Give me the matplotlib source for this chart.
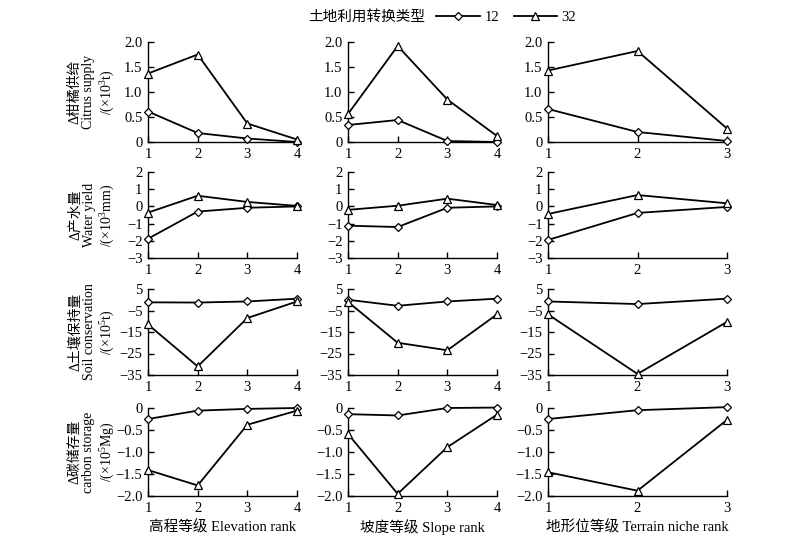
import matplotlib
matplotlib.use("Agg")
import matplotlib.pyplot as plt
from matplotlib.lines import Line2D

plt.rcParams['font.family'] = ['Liberation Serif', 'Noto Sans CJK SC']
plt.rcParams['mathtext.fontset'] = 'custom'
plt.rcParams['mathtext.rm'] = 'Liberation Serif'
plt.rcParams['axes.unicode_minus'] = True

# ---------- data
ranks_elev = [1, 2, 3, 4]
ranks_slope = [1, 2, 3, 4]
ranks_terrain = [1, 2, 3]

citrus_12 = [[0.61, 0.18, 0.07, 0.0], [0.34, 0.44, 0.02, 0.0], [0.66, 0.2, 0.02]]
citrus_32 = [[1.37, 1.75, 0.37, 0.05], [0.56, 1.92, 0.85, 0.12], [1.43, 1.82, 0.27]]

water_12 = [[-1.88, -0.3, -0.08, 0.0], [-1.12, -1.2, -0.08, 0.0], [-1.95, -0.38, -0.03]]
water_32 = [[-0.36, 0.62, 0.26, 0.03], [-0.2, 0.04, 0.45, 0.08], [-0.44, 0.66, 0.18]]

soil_12 = [[-1.2, -1.3, -0.8, 0.5], [0.0, -2.8, -0.8, 0.5], [-0.8, -2.0, 0.5]]
soil_32 = [[-11.5, -31.0, -8.5, -0.8], [-1.0, -20.0, -23.5, -6.8], [-6.8, -34.5, -10.3]]

carbon_12 = [[-0.25, -0.06, -0.02, 0.0], [-0.14, -0.17, 0.0, 0.01], [-0.25, -0.05, 0.02]]
carbon_32 = [[-1.41, -1.76, -0.38, -0.06], [-0.59, -1.95, -0.89, -0.15], [-1.46, -1.88, -0.27]]

series_12 = [citrus_12, water_12, soil_12, carbon_12]
series_32 = [citrus_32, water_32, soil_32, carbon_32]
ranks = [ranks_elev, ranks_slope, ranks_terrain]

yticks = [[0, 0.5, 1.0, 1.5, 2.0], [-3, -2, -1, 0, 1, 2],
          [-35, -25, -15, -5, 5], [-2.0, -1.5, -1.0, -0.5, 0]]
ytick_labels = [["0", "0.5", "1.0", "1.5", "2.0"],
                ["\u22123", "\u22122", "\u22121", "0", "1", "2"],
                ["\u221235", "\u221225", "\u221215", "\u22125", "5"],
                ["\u22122.0", "\u22121.5", "\u22121.0", "\u22120.5", "0"]]
ylabels = ["\u0394柑橘供给\nCitrus supply\n/(\u00d710$^{3}$t)",
           "\u0394产水量\nWater yield\n/(\u00d710$^{3}$mm)",
           "\u0394土壤保持量\nSoil conservation\n/(\u00d710$^{5}$t)",
           "\u0394碳储存量\ncarbon storage\n/(\u00d710$^{5}$Mg)"]
xlabels = ["高程等级 Elevation rank", "坡度等级 Slope rank", "地形位等级 Terrain niche rank"]
legend_title = "土地利用转换类型"
legend_labels = ["12", "32"]

# ---------- layout (pixels -> figure fractions)
W, H = 800, 545
col_left = [148, 348, 548]
col_width = [149, 149, 179]
row_top = [42, 172, 289, 408]
row_height = [100, 86, 86, 88]

fig = plt.figure(figsize=(8.0, 5.45), dpi=100)
fs = 10.5

for r in range(4):
    for c in range(3):
        ax = fig.add_axes([col_left[c] / W, 1 - (row_top[r] + row_height[r]) / H,
                           col_width[c] / W, row_height[r] / H])
        x = ranks[c]
        ax.plot(x, series_12[r][c], color='black', lw=1.3, marker='D', ms=4.2,
                mfc='white', mec='black', mew=0.9, clip_on=False, zorder=3)
        ax.plot(x, series_32[r][c], color='black', lw=1.3, marker='^', ms=6,
                mfc='white', mec='black', mew=0.9, clip_on=False, zorder=3)
        ax.set_xlim(x[0], x[-1])
        ax.set_xticks(x)
        ax.set_ylim(yticks[r][0], yticks[r][-1])
        ax.set_yticks(yticks[r])
        ax.set_yticklabels(ytick_labels[r])
        for s in ['top', 'right']:
            ax.spines[s].set_visible(False)
        for s in ['left', 'bottom']:
            ax.spines[s].set_linewidth(1.0)
        ax.tick_params(direction='in', length=4, width=1.0, labelsize=fs, pad=4)
    yc = 1 - (row_top[r] + row_height[r] / 2) / H
    fig.text(92 / W, yc, ylabels[r], rotation=90, ha='center', va='center',
             fontsize=10, linespacing=1.1, multialignment='center')

for c in range(3):
    fig.text((col_left[c] + col_width[c] / 2) / W, 1 - 527 / H, xlabels[c],
             ha='center', va='center', fontsize=fs)

# legend
fig.text(425 / W, 1 - 17 / H, legend_title, ha='right', va='center', fontsize=fs)
handles = [Line2D([], [], color='black', lw=1.3, marker='D', ms=4.2, mfc='white', mec='black', mew=0.9),
           Line2D([], [], color='black', lw=1.3, marker='^', ms=6, mfc='white', mec='black', mew=0.9)]
fig.legend(handles, legend_labels, loc='center left', bbox_to_anchor=(426 / W, 1 - 17 / H),
           ncol=2, frameon=False, fontsize=fs, handlelength=3.0, handletextpad=0.3,
           columnspacing=1.0, borderpad=0.2)

fig.savefig("out.png", dpi=100)
